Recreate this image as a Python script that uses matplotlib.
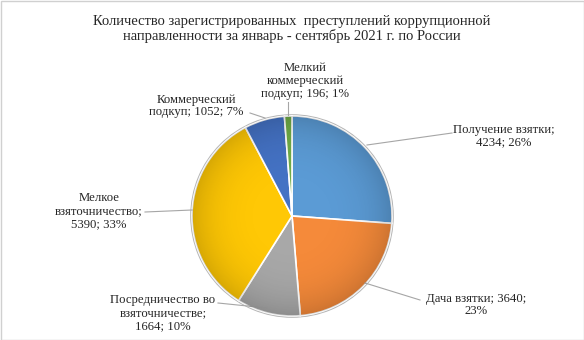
import matplotlib

matplotlib.use('Agg')
import matplotlib.pyplot as plt
import numpy as np
from matplotlib.patches import Rectangle, Circle

plt.rcParams['font.family'] = ['Liberation Serif', 'DejaVu Serif']

# data
categories = ['Получение взятки', 'Дача взятки', 'Посредничество во взяточничестве',
              'Мелкое взяточничество', 'Коммерческий подкуп', 'Мелкий коммерческий подкуп']
values = [4234, 3640, 1664, 5390, 1052, 196]
percents = [26, 23, 10, 33, 7, 1]
label_texts = ['Получение взятки;\n4234; 26%',
               'Дача взятки; 3640;\n23%',
               'Посредничество во\nвзяточничестве;\n1664; 10%',
               'Мелкое\nвзяточничество;\n5390; 33%',
               'Коммерческий\nподкуп; 1052; 7%',
               'Мелкий\nкоммерческий\nподкуп; 196; 1%']
colors = ['#5B9BD5', '#F58A3A', '#A8A8A8', '#FFC805', '#4472C4', '#70AD47']

W, H = 584, 340
fig = plt.figure(figsize=(W / 100, H / 100), dpi=100)
ax = fig.add_axes([0, 0, 1, 1])

# outer frame
ax.add_patch(Rectangle((0.5, 0.5), W - 1, H - 1, fill=False, edgecolor='#D0D0D0', lw=1))

cx, cy, r = 292, H - 216, 100
# soft shadow ring
ax.pie([1], colors=['#B5B5B5'], radius=r + 1.8, center=(cx, cy),
       wedgeprops=dict(linewidth=0), frame=True)
ax.pie(values, colors=colors, startangle=90, counterclock=False,
       radius=r, center=(cx, cy), frame=True,
       wedgeprops=dict(edgecolor='white', linewidth=1.2))

# subtle rim shading
gy, gx = np.mgrid[-1:1:200j, -1:1:200j]
rr = np.clip(np.hypot(gx, gy), 0, 1)
shade = np.zeros((200, 200, 4))
shade[..., 3] = 0.16 * rr ** 4
im = ax.imshow(shade, extent=(cx - r, cx + r, cy - r, cy + r), zorder=3)
im.set_clip_path(Circle((cx, cy), r, transform=ax.transData))

ax.set_xlim(0, W)
ax.set_ylim(0, H)
ax.set_aspect('equal')
ax.axis('off')

ax.text(W / 2, H - 29, 'Количество зарегистрированных  преступлений коррупционной\n'
        'направленности за январь - сентябрь 2021 г. по России',
        ha='center', va='center', fontsize=10.5, color='#262626', linespacing=1.15)

# label positions (text centre) and leader lines, in pixel coords from top
label_pos = [(504, 136), (476, 305), (163, 313), (99, 211), (196, 106), (305, 81)]
leaders = [[(367, 145), (452, 133)],
           [(365, 283), (420, 300)],
           [(218, 303), (267, 308)],
           [(145, 212), (192, 210)],
           [(250, 113), (265, 118)],
           [(288, 102), (288, 115)]]

for txt, (x, y), ln in zip(label_texts, label_pos, leaders):
    ax.text(x, H - y, txt, ha='center', va='center', fontsize=9.2,
            color='#262626', linespacing=1.1)
    ax.plot([p[0] for p in ln], [H - p[1] for p in ln], color='#A6A6A6', lw=0.8)

fig.savefig('out.png', dpi=100)
